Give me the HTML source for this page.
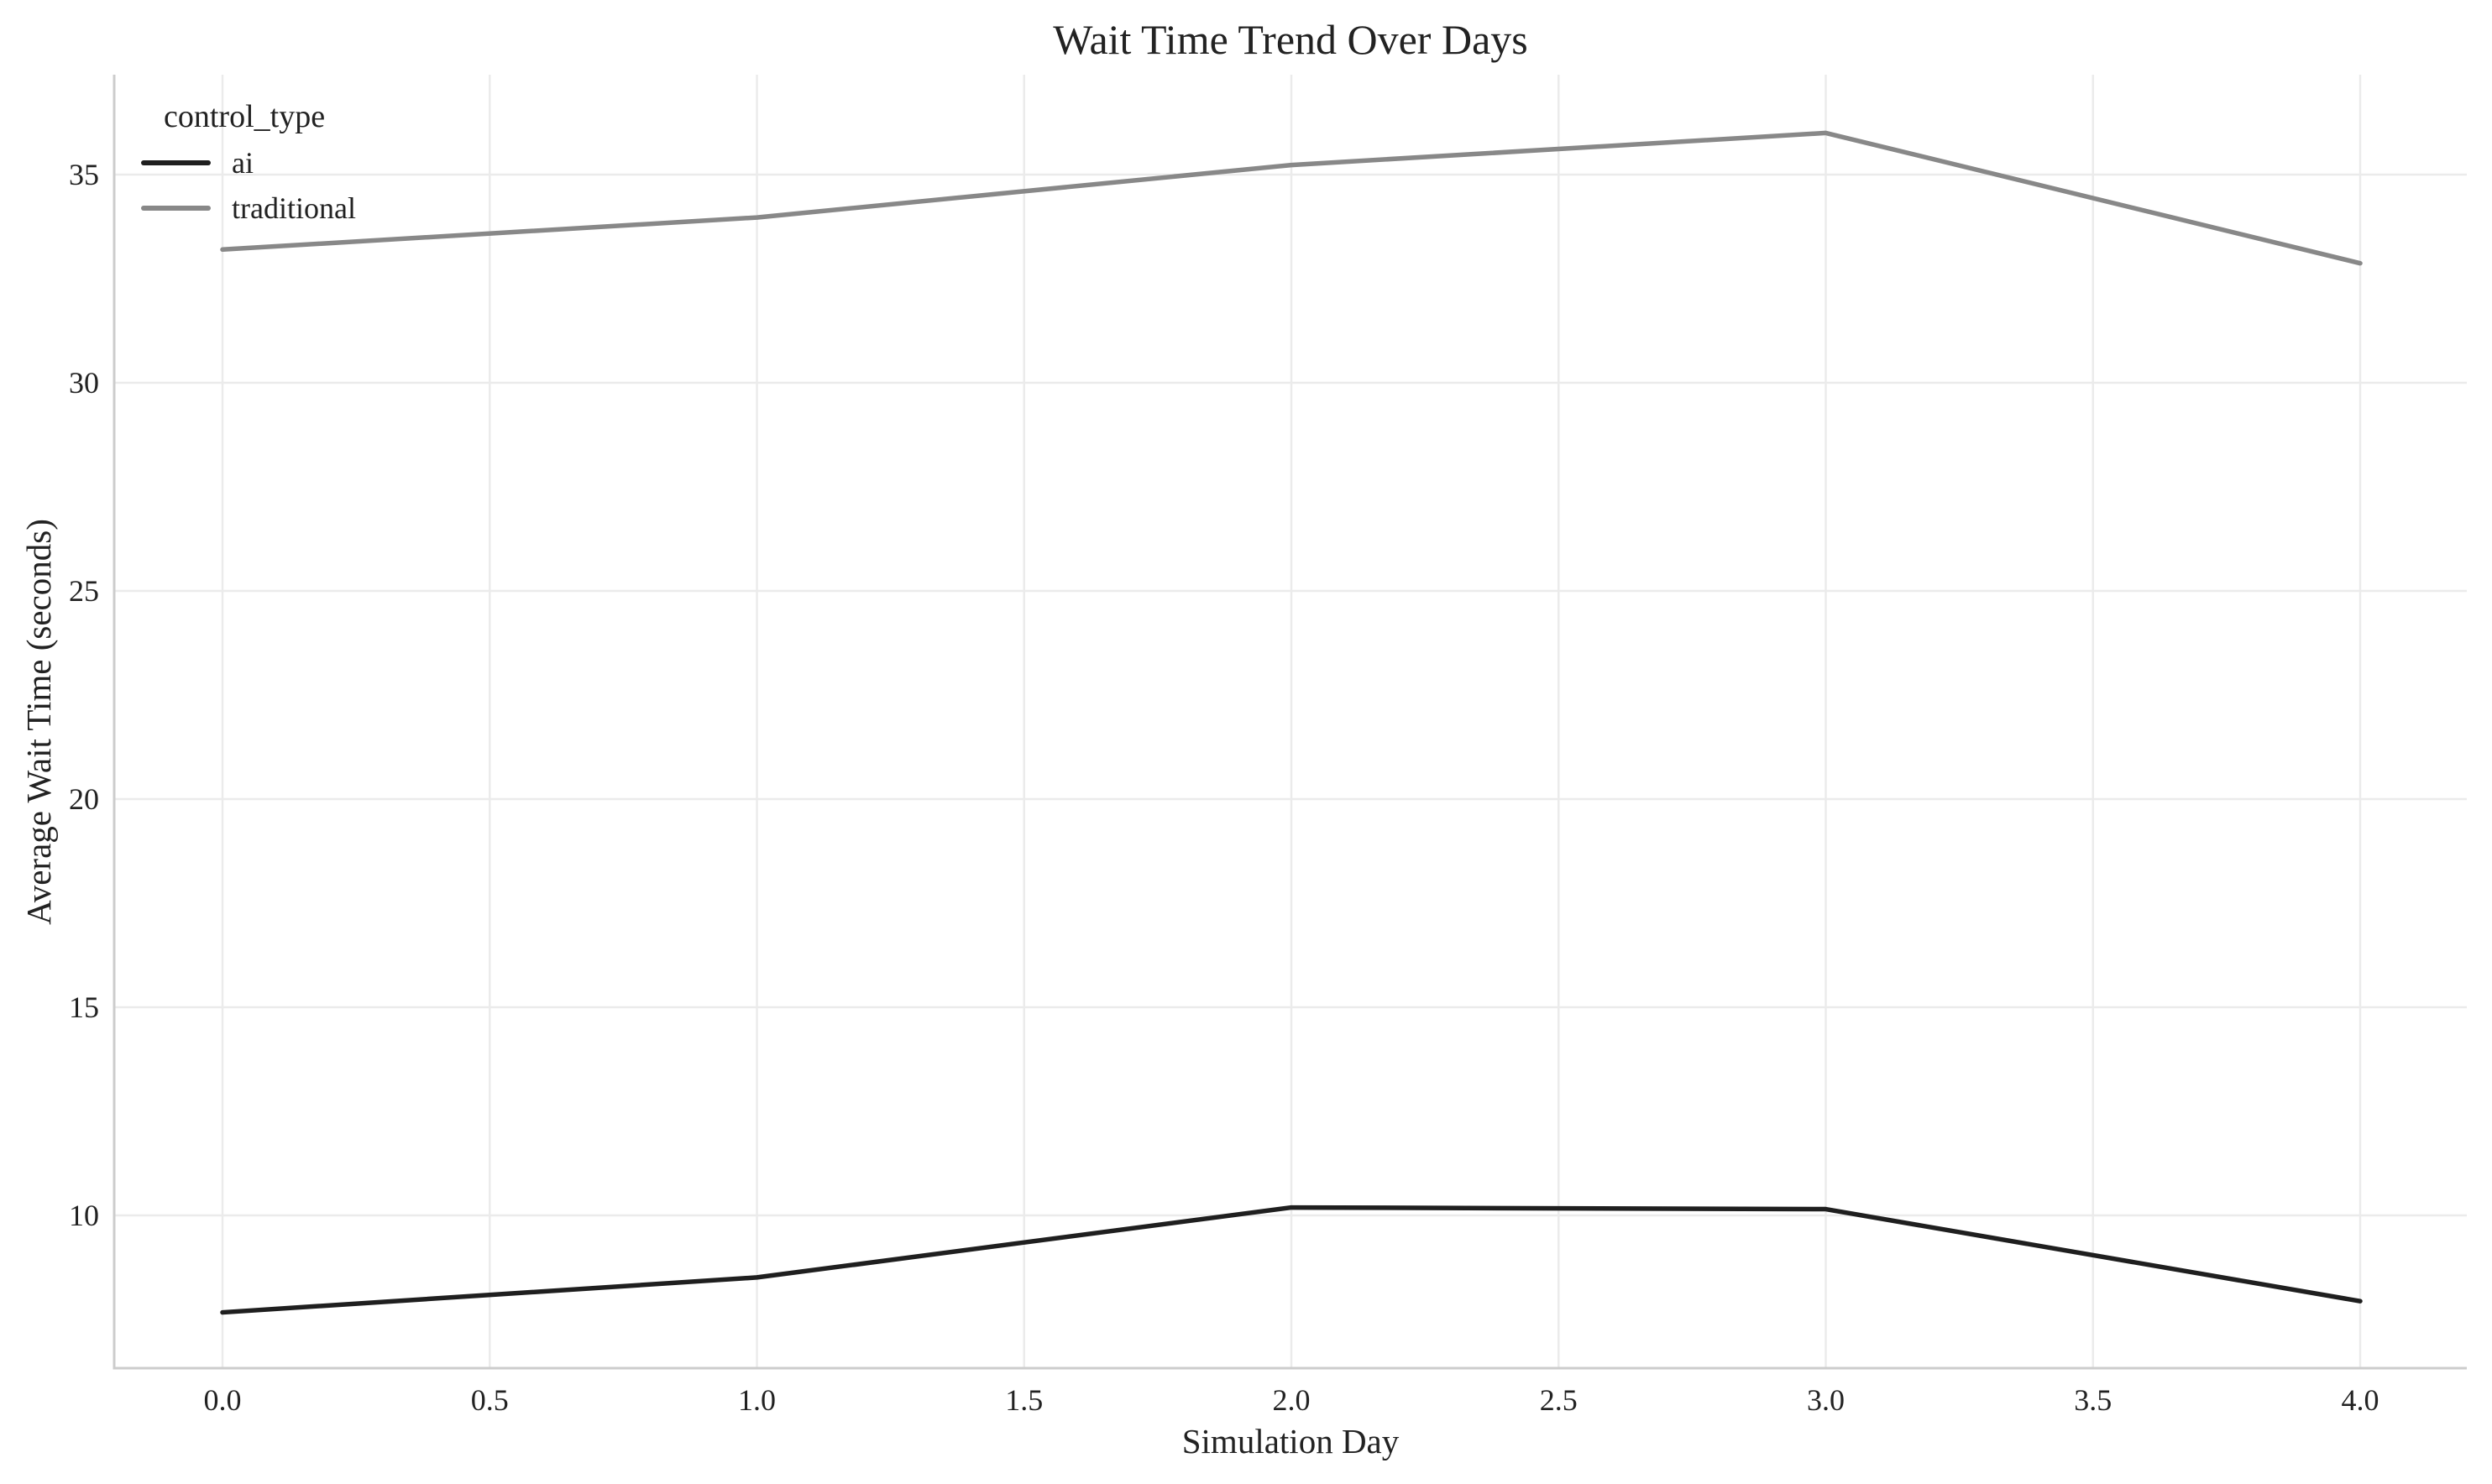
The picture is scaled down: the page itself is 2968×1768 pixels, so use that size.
<!DOCTYPE html>
<html><head><meta charset="utf-8"><style>
html,body{margin:0;padding:0;background:#fff}
svg{display:block;font-family:"Liberation Serif",serif}
</style></head><body>
<svg id="chart" width="2968" height="1768" viewBox="0 0 2968 1768" xmlns="http://www.w3.org/2000/svg">
<rect width="2968" height="1768" fill="#fff"/>
<text x="1537" y="64" font-size="50" text-anchor="middle" fill="#222">Wait Time Trend Over Days</text>
<g id="grid"></g>
<g id="axes"></g>
<g id="series"></g>
<text x="1537" y="1731" font-size="41" text-anchor="middle" fill="#222">Simulation Day</text>
<text transform="translate(60,860) rotate(-90)" font-size="41" text-anchor="middle" fill="#222">Average Wait Time (seconds)</text>
<g>
<text x="195" y="151" font-size="38" fill="#222">control_type</text>
<line x1="171" y1="194" x2="248" y2="194" stroke="#1f1f1f" stroke-width="6" stroke-linecap="round"/>
<text x="276" y="206" font-size="36" fill="#222">ai</text>
<line x1="171" y1="248" x2="248" y2="248" stroke="#888" stroke-width="6" stroke-linecap="round"/>
<text x="276" y="260" font-size="36" fill="#222">traditional</text>
</g>
</svg>
<script>
const days = [0, 1, 2, 3, 4];
const aiValues = [7.67, 8.51, 10.19, 10.15, 7.94];
const traditionalValues = [33.2, 33.97, 35.23, 36.0, 32.87];
const xTicks = [0, 0.5, 1, 1.5, 2, 2.5, 3, 3.5, 4];
const xTickLabels = ["0.0","0.5","1.0","1.5","2.0","2.5","3.0","3.5","4.0"];
const yTicks = [10, 15, 20, 25, 30, 35];
const yTickLabels = ["10","15","20","25","30","35"];

const L=136,R=2938,T=89,B=1630;
const x0px=265,x4px=2811;
function xs(v){return x0px+(v-0)*(x4px-x0px)/4;}
function ys(v){return 208+(35-v)*49.6;}
const NS="http://www.w3.org/2000/svg";
function mk(tag,attrs,parent,text){const e=document.createElementNS(NS,tag);for(const k in attrs)e.setAttribute(k,attrs[k]);if(text!==undefined)e.textContent=text;parent.appendChild(e);return e;}
const grid=document.getElementById('grid'),axes=document.getElementById('axes'),series=document.getElementById('series');
xTicks.forEach((t,i)=>{
  const g=mk('line',{x1:xs(t),x2:xs(t),y1:T,y2:B,stroke:'#ebebeb','stroke-width':2.5},grid);
  
  
  const tx=mk('text',{x:xs(t),y:B+50,'font-size':36,'text-anchor':'middle',fill:'#222'},axes,xTickLabels[i]);
  
  
});
yTicks.forEach((t,i)=>{
  const g=mk('line',{x1:L,x2:R,y1:ys(t),y2:ys(t),stroke:'#ebebeb','stroke-width':2.5},grid);
  
  
  const tx=mk('text',{x:L-18,y:ys(t)+12,'font-size':36,'text-anchor':'end',fill:'#222'},axes,yTickLabels[i]);
  
  
});
const ax=mk('path',{d:`M${L},${T} V${B} H${R}`,fill:'none',stroke:'#cccccc','stroke-width':3},axes);


function drawLine(vals,color,name){
  const d=vals.map((v,i)=>(i?'L':'M')+xs(days[i])+','+ys(v)).join(' ');
  const p=mk('path',{d:d,fill:'none',stroke:color,'stroke-width':5.5,'stroke-linejoin':'round','stroke-linecap':'round'},series);
  
  
}
drawLine(traditionalValues,'#888888','line-traditional');
drawLine(aiValues,'#1f1f1f','line-ai');
</script>
</body></html>
